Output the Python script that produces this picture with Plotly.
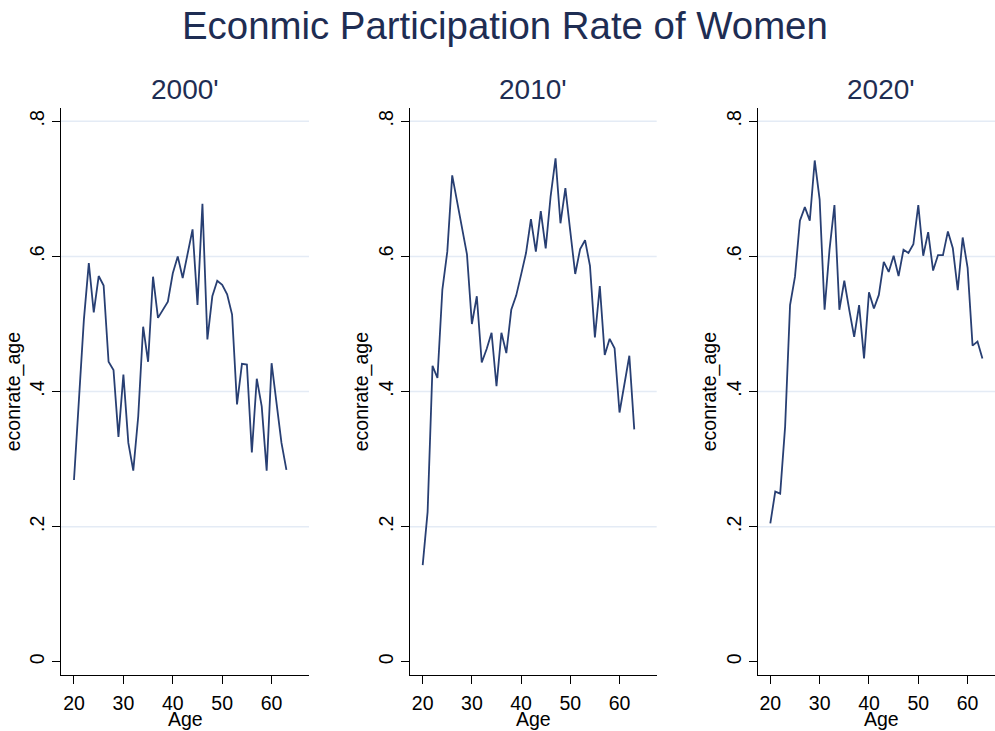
import plotly.graph_objects as go

ages = list(range(20, 64))

rate_2000 = [0.269, 0.388, 0.506, 0.590, 0.517, 0.571, 0.557, 0.444, 0.432, 0.333,
             0.425, 0.324, 0.283, 0.363, 0.496, 0.444, 0.570, 0.509, 0.521, 0.533,
             0.575, 0.600, 0.568, 0.607, 0.640, 0.528, 0.678, 0.477, 0.541, 0.564,
             0.558, 0.544, 0.514, 0.381, 0.441, 0.440, 0.310, 0.419, 0.378, 0.283,
             0.442, 0.383, 0.324, 0.284]

rate_2010 = [0.143, 0.222, 0.438, 0.420, 0.551, 0.607, 0.720, 0.681, 0.642, 0.603,
             0.500, 0.541, 0.443, 0.463, 0.487, 0.408, 0.487, 0.457, 0.521, 0.542,
             0.573, 0.605, 0.655, 0.607, 0.667, 0.612, 0.689, 0.745, 0.649, 0.701,
             0.637, 0.574, 0.611, 0.624, 0.586, 0.480, 0.556, 0.454, 0.478, 0.464,
             0.369, 0.411, 0.453, 0.344]

rate_2020 = [0.205, 0.252, 0.249, 0.348, 0.528, 0.570, 0.653, 0.673, 0.653, 0.742,
             0.684, 0.521, 0.610, 0.676, 0.521, 0.564, 0.521, 0.481, 0.528, 0.449,
             0.547, 0.523, 0.543, 0.592, 0.577, 0.601, 0.571, 0.610, 0.605, 0.618,
             0.676, 0.601, 0.636, 0.579, 0.602, 0.602, 0.637, 0.612, 0.550, 0.628,
             0.583, 0.468, 0.474, 0.449]

panel_titles = ["2000'", "2010'", "2020'"]
series = [rate_2000, rate_2010, rate_2020]
y_tick_vals = [0, 0.2, 0.4, 0.6, 0.8]
y_tick_text = ["0", ".2", ".4", ".6", ".8"]
x_tick_vals = [20, 30, 40, 50, 60]
grid_vals = [0.2, 0.4, 0.6, 0.8]

main_title = "Econmic Participation Rate of Women"
x_title = "Age"
y_title = "econrate_age"

W, H = 995, 731
LINE_COLOR = "#283f73"
TITLE_COLOR = "#1e2d53"
GRID_COLOR = "#e4ebf5"
FONT = "Liberation Sans, Arial, sans-serif"

# pixel layout of the panels
x_domains_px = [(61, 309), (409.7, 656.7), (757.7, 995)]
x_ranges = [[17.37, 67.57], [17.36, 67.56], [17.44, 65.55]]
y_dom = [1 - 675 / H, 1 - 108.3 / H]
y_range = [-0.0195, 0.8192]

fig = go.Figure()

for i, (vals, (x0, x1)) in enumerate(zip(series, x_domains_px)):
    n = "" if i == 0 else str(i + 1)
    fig.add_trace(go.Scatter(
        x=ages, y=vals, mode="lines",
        line=dict(color=LINE_COLOR, width=1.8),
        xaxis="x" + n, yaxis="y" + n, showlegend=False,
        hoverinfo="x+y",
    ))
    fig.update_layout(**{
        "xaxis" + n: dict(
            domain=[x0 / W, min(x1 / W, 1.0)], range=x_ranges[i],
            anchor="y" + n, tickvals=x_tick_vals,
            showline=True, linecolor="#000000", linewidth=1.4,
            ticks="outside", ticklen=8, tickwidth=1.3, tickcolor="#000000",
            ticklabelstandoff=2,
            showgrid=False, zeroline=False,
            tickfont=dict(family=FONT, size=19.5, color="#000000"),
        ),
        "yaxis" + n: dict(
            domain=y_dom, range=y_range, anchor="x" + n,
            tickvals=y_tick_vals, ticktext=y_tick_text, tickangle=-90,
            showline=True, linecolor="#000000", linewidth=1.4,
            ticks="outside", ticklen=8, tickwidth=1.3, tickcolor="#000000",
            showgrid=False, zeroline=False,
            tickfont=dict(family=FONT, size=19.5, color="#000000"),
            title=dict(text=y_title, standoff=0,
                       font=dict(family=FONT, size=19.5, color="#000000")),
        ),
    })
    for g in grid_vals:
        fig.add_shape(type="line", xref="x" + n + " domain", yref="y" + n,
                      x0=0, x1=1, y0=g, y1=g,
                      line=dict(color=GRID_COLOR, width=1.5), layer="below")
    full_right = x1 if i < 2 else 1005
    fig.add_annotation(
        text=panel_titles[i], xref="paper", yref="paper",
        x=((x0 + full_right) / 2) / W, y=1 - 90 / H,
        xanchor="center", yanchor="middle", showarrow=False,
        font=dict(family=FONT, size=28, color=TITLE_COLOR),
    )
    fig.add_annotation(
        text=x_title, xref="paper", yref="paper",
        x=((x0 + full_right) / 2) / W, y=1 - 718.5 / H,
        xanchor="center", yanchor="middle", showarrow=False,
        font=dict(family=FONT, size=19.5, color="#000000"),
    )

fig.add_annotation(
    text=main_title, xref="paper", yref="paper",
    x=505 / W, y=1 - 26 / H, xanchor="center", yanchor="middle",
    showarrow=False, font=dict(family=FONT, size=38.4, color=TITLE_COLOR),
)

fig.update_layout(
    width=W, height=H,
    margin=dict(l=0, r=0, t=0, b=0),
    paper_bgcolor="#ffffff", plot_bgcolor="#ffffff",
    font=dict(family=FONT),
)

fig.write_html("out.html")
